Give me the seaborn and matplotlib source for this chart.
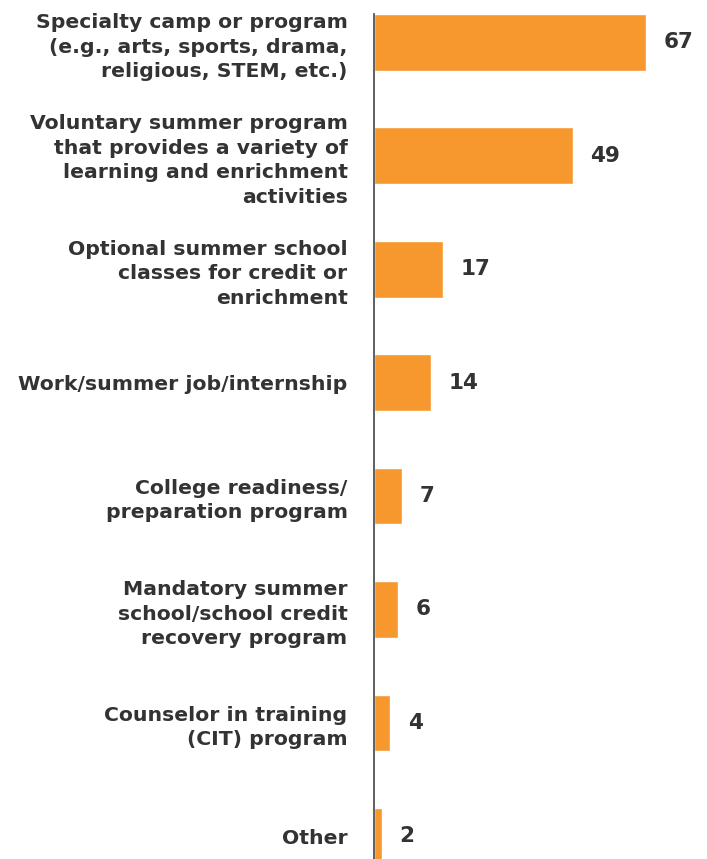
import matplotlib
matplotlib.use("Agg")
import matplotlib.pyplot as plt
import seaborn as sns
import pandas as pd

categories = [
    "Specialty camp or program\n(e.g., arts, sports, drama,\nreligious, STEM, etc.)",
    "Voluntary summer program\nthat provides a variety of\nlearning and enrichment\nactivities",
    "Optional summer school\nclasses for credit or\nenrichment",
    "Work/summer job/internship",
    "College readiness/\npreparation program",
    "Mandatory summer\nschool/school credit\nrecovery program",
    "Counselor in training\n(CIT) program",
    "Other",
]
values = [67, 49, 17, 14, 7, 6, 4, 2]

df = pd.DataFrame({"category": categories, "value": values})

sns.set_theme(style="white")
plt.rcParams["font.family"] = ["DejaVu Sans"]

fig = plt.figure(figsize=(7.07, 8.59), dpi=100)
W, H = 707, 859
ax = fig.add_axes([374 / W, 0, (W - 374) / W, (859 - 14) / H])

sns.barplot(data=df, x="value", y="category", orient="h", color="#F7982F",
            saturation=1, width=0.5, ax=ax)

ax.set_xlim(0, (W - 374) / 4.06)
ax.set_ylim(7.2, -0.25)
ax.set_xlabel("")
ax.set_ylabel("")
ax.set_xticks([])
for s in ["top", "right", "bottom"]:
    ax.spines[s].set_visible(False)
ax.spines["left"].set_color("#444444")
ax.spines["left"].set_linewidth(1.2)

ax.tick_params(axis="y", length=0, pad=19)
for lbl in ax.get_yticklabels():
    lbl.set_fontweight("bold")
    lbl.set_fontsize(14.7)
    lbl.set_color("#333333")
    lbl.set_horizontalalignment("right")
    lbl.set_multialignment("right")
    lbl.set_linespacing(1.36)

for i, v in enumerate(values):
    ax.text(v + 4.3, i, str(v), va="center", ha="left", fontsize=15.5,
            fontweight="bold", color="#333333")

fig.savefig("out.png", dpi=100)
